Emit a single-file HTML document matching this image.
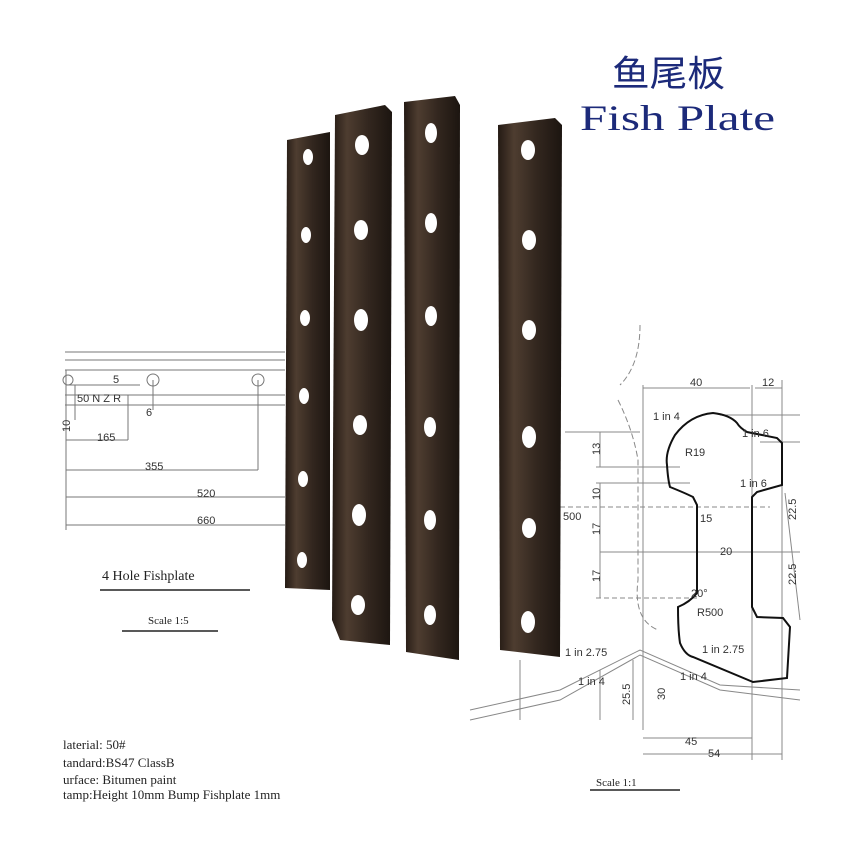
<!DOCTYPE html>
<html><head><meta charset="utf-8"><style>
body{margin:0;width:860px;height:860px;background:#fff;overflow:hidden;position:relative;font-family:"Liberation Sans",sans-serif}
</style></head><body>
<svg width="860" height="860" style="position:absolute;left:0;top:0" font-family="Liberation Sans, sans-serif">
<g stroke="#777" stroke-width="1" fill="none">
<line x1="65" y1="352" x2="285" y2="352"/>
<line x1="65" y1="360" x2="285" y2="360"/>
<line x1="65" y1="370" x2="285" y2="370"/>
<line x1="65" y1="395" x2="285" y2="395"/>
<line x1="65" y1="405" x2="285" y2="405"/>
<line x1="66" y1="370" x2="66" y2="530"/>
<line x1="75" y1="385" x2="75" y2="420"/>
<line x1="128" y1="395" x2="128" y2="440"/>
<line x1="153" y1="380" x2="153" y2="410"/>
<line x1="258" y1="380" x2="258" y2="470"/>
<line x1="66" y1="440" x2="128" y2="440"/>
<line x1="66" y1="470" x2="258" y2="470"/>
<line x1="66" y1="497" x2="285" y2="497"/>
<line x1="66" y1="525" x2="285" y2="525"/>
<line x1="66" y1="385" x2="140" y2="385"/>
<circle cx="153" cy="380" r="6"/><circle cx="258" cy="380" r="6"/><circle cx="68" cy="380" r="5"/>
<line x1="100" y1="590" x2="250" y2="590" stroke="#222" stroke-width="1.5"/>
<line x1="122" y1="631" x2="218" y2="631" stroke="#222" stroke-width="1.5"/>
</g>
<g font-size="11" fill="#333">
<text x="113" y="383">5</text><text x="77" y="402">50 N Z R</text><text x="146" y="416">6</text>
<text x="97" y="441">165</text><text x="145" y="470">355</text><text x="197" y="497">520</text><text x="197" y="524">660</text>
<text x="70" y="432" transform="rotate(-90 70 432)">10</text>
</g>
<text x="102" y="580" font-family="Liberation Serif" font-size="14" fill="#222">4 Hole Fishplate</text>
<text x="148" y="624" font-family="Liberation Serif" font-size="11" fill="#222">Scale 1:5</text>
<g font-family="Liberation Serif" font-size="13" fill="#222">
<text x="63" y="749">laterial:  50#</text>
<text x="63" y="767">tandard:BS47 ClassB</text>
<text x="63" y="784">urface:  Bitumen paint</text>
<text x="63" y="799">tamp:Height 10mm Bump Fishplate 1mm</text>
</g>
<g stroke="#888" stroke-width="1" fill="none">
<path d="M640 325 q0 40 -20 60" stroke-dasharray="6 3"/>
<path d="M618 400 q15 30 20 60 v120 q-5 40 20 50" stroke-dasharray="6 3"/>
<line x1="643" y1="385" x2="643" y2="730"/><line x1="752" y1="385" x2="752" y2="760"/><line x1="782" y1="380" x2="782" y2="760"/>
<line x1="643" y1="388" x2="750" y2="388"/><line x1="755" y1="388" x2="782" y2="388"/>
<line x1="565" y1="432" x2="640" y2="432"/><line x1="596" y1="467" x2="680" y2="467"/>
<line x1="596" y1="483" x2="690" y2="483"/><line x1="560" y1="507" x2="770" y2="507" stroke-dasharray="5 3"/>
<line x1="600" y1="552" x2="800" y2="552"/><line x1="596" y1="598" x2="700" y2="598" stroke-dasharray="5 3"/>
<line x1="600" y1="483" x2="600" y2="598"/><line x1="600" y1="432" x2="600" y2="467"/>
<line x1="785" y1="493" x2="800" y2="620"/><line x1="720" y1="415" x2="800" y2="415"/><line x1="760" y1="442" x2="800" y2="442"/>
<path d="M470 720 L560 700 L640 655 L720 690 L800 700"/>
<path d="M470 710 L560 690 L640 650 L720 685 L800 690"/>
<line x1="520" y1="660" x2="520" y2="720"/><line x1="600" y1="670" x2="600" y2="720"/><line x1="633" y1="660" x2="633" y2="720"/>
<line x1="643" y1="738" x2="752" y2="738"/><line x1="643" y1="754" x2="782" y2="754"/>
<line x1="590" y1="790" x2="680" y2="790" stroke="#222" stroke-width="1.5"/>
</g>
<path d="M713 413 Q690 415 675 435 Q665 452 667 465 Q668 480 670 487 Q685 493 693 497 L697 505 L697 593 Q690 602 678 607 Q678 630 680 643 Q685 655 693 657 L753 682 L787 678 L790 627 L783 618 L757 617 L752 607 L752 497 L757 492 L782 485 L782 443 L777 438 L747 432 Q740 428 737 423 Q730 415 713 413 Z" fill="none" stroke="#111" stroke-width="2"/>
<g font-size="11" fill="#333">
<text x="690" y="386">40</text><text x="762" y="386">12</text><text x="653" y="420">1 in 4</text>
<text x="742" y="437">1 in 6</text><text x="740" y="487">1 in 6</text><text x="685" y="456">R19</text>
<text x="700" y="522">15</text><text x="720" y="555">20</text><text x="563" y="520">500</text>
<text x="691" y="597">20°</text><text x="697" y="616">R500</text><text x="702" y="653">1 in 2.75</text>
<text x="565" y="656">1 in 2.75</text><text x="578" y="685">1 in 4</text><text x="680" y="680">1 in 4</text>
<text x="685" y="745">45</text><text x="708" y="757">54</text>
<text x="600" y="455" transform="rotate(-90 600 455)">13</text>
<text x="600" y="500" transform="rotate(-90 600 500)">10</text>
<text x="600" y="535" transform="rotate(-90 600 535)">17</text>
<text x="600" y="582" transform="rotate(-90 600 582)">17</text>
<text x="796" y="520" transform="rotate(-90 796 520)">22.5</text>
<text x="796" y="585" transform="rotate(-90 796 585)">22.5</text>
<text x="665" y="700" transform="rotate(-90 665 700)">30</text>
<text x="630" y="705" transform="rotate(-90 630 705)">25.5</text>
</g>
<text x="596" y="786" font-family="Liberation Serif" font-size="11" fill="#222">Scale 1:1</text>
<defs><linearGradient id="g" x1="0" x2="1"><stop offset="0" stop-color="#241a14"/><stop offset=".25" stop-color="#4e3d30"/><stop offset=".6" stop-color="#33271f"/><stop offset="1" stop-color="#1c1510"/></linearGradient></defs>
<path d="M287 140 L330 132 L330 590 L285 588 Z" fill="url(#g)"/>
<path d="M335 115 L385 105 L392 112 L390 645 L340 640 L332 620 Z" fill="url(#g)"/>
<path d="M404 102 L455 96 L460 105 L459 660 L406 652 Z" fill="url(#g)"/>
<path d="M498 125 L555 118 L562 125 L560 657 L500 650 Z" fill="url(#g)"/>
<g fill="#fff">
<ellipse cx="308" cy="157" rx="5" ry="8"/><ellipse cx="306" cy="235" rx="5" ry="8"/><ellipse cx="305" cy="318" rx="5" ry="8"/><ellipse cx="304" cy="396" rx="5" ry="8"/><ellipse cx="303" cy="479" rx="5" ry="8"/><ellipse cx="302" cy="560" rx="5" ry="8"/>
<ellipse cx="362" cy="145" rx="7" ry="10"/><ellipse cx="361" cy="230" rx="7" ry="10"/><ellipse cx="361" cy="320" rx="7" ry="11"/><ellipse cx="360" cy="425" rx="7" ry="10"/><ellipse cx="359" cy="515" rx="7" ry="11"/><ellipse cx="358" cy="605" rx="7" ry="10"/>
<ellipse cx="431" cy="133" rx="6" ry="10"/><ellipse cx="431" cy="223" rx="6" ry="10"/><ellipse cx="431" cy="316" rx="6" ry="10"/><ellipse cx="430" cy="427" rx="6" ry="10"/><ellipse cx="430" cy="520" rx="6" ry="10"/><ellipse cx="430" cy="615" rx="6" ry="10"/>
<ellipse cx="528" cy="150" rx="7" ry="10"/><ellipse cx="529" cy="240" rx="7" ry="10"/><ellipse cx="529" cy="330" rx="7" ry="10"/><ellipse cx="529" cy="437" rx="7" ry="11"/><ellipse cx="529" cy="528" rx="7" ry="10"/><ellipse cx="528" cy="622" rx="7" ry="11"/>
</g>
<text x="612" y="86" font-family="Noto Sans CJK SC, sans-serif" font-size="36" fill="#1c2a7a" textLength="113" lengthAdjust="spacingAndGlyphs">鱼尾板</text>
<text x="580" y="130" font-family="Liberation Serif, serif" font-size="36" fill="#1c2a7a" textLength="195" lengthAdjust="spacingAndGlyphs">Fish Plate</text>
</svg>
</body></html>
